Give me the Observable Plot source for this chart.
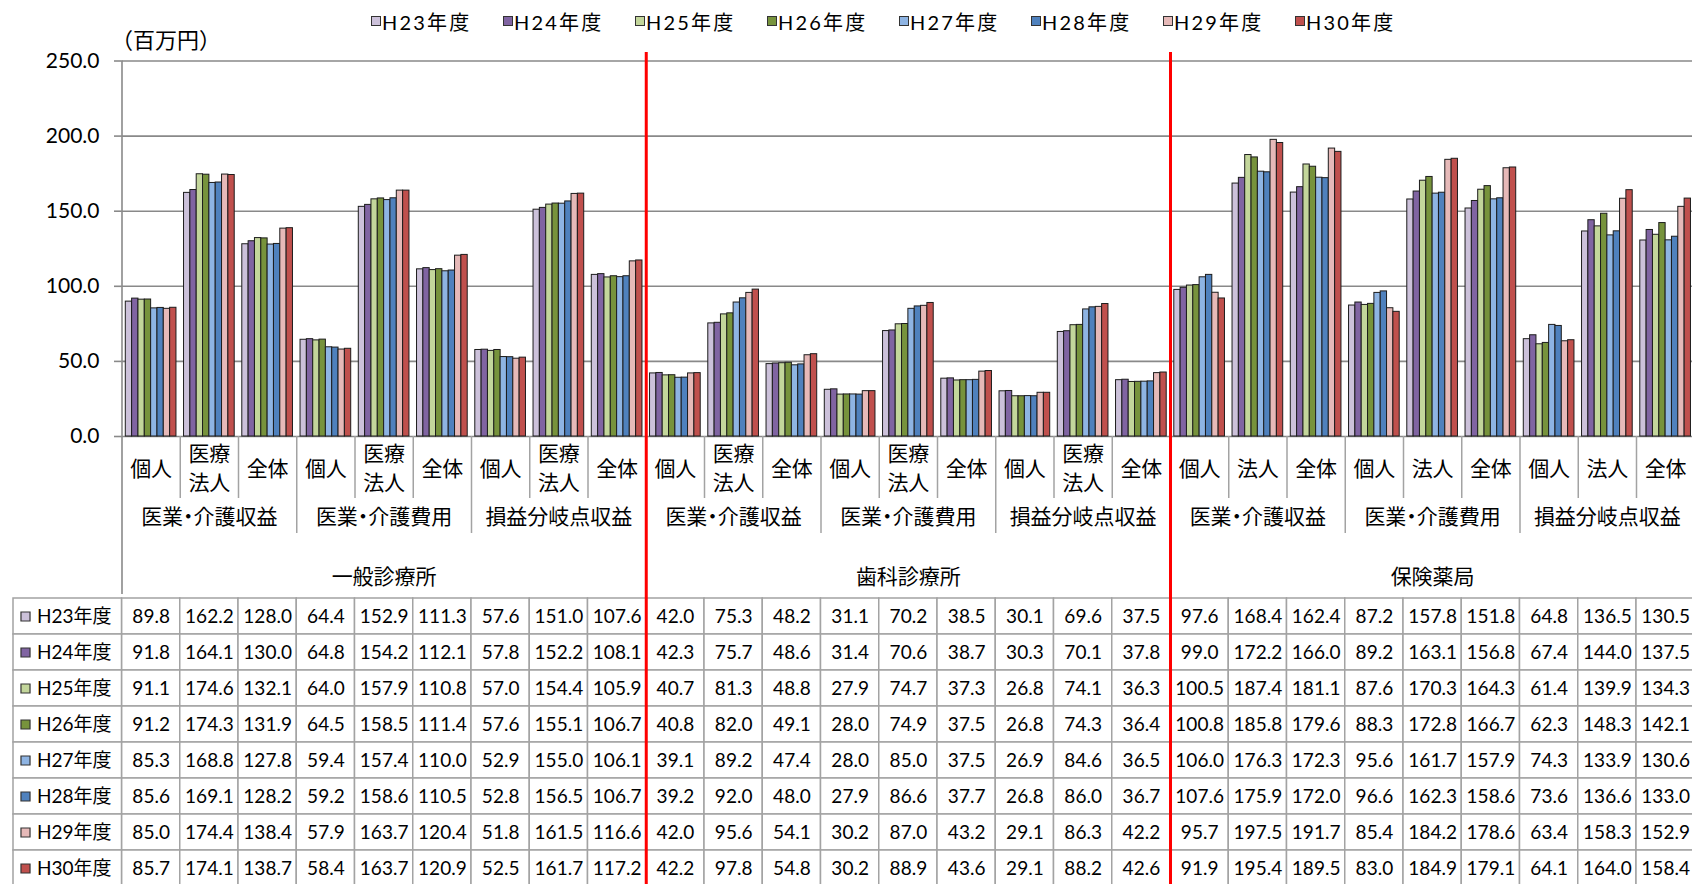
<!DOCTYPE html>
<html lang="ja">
<head>
<meta charset="utf-8">
<script src="https://cdn.jsdelivr.net/npm/d3@7"></script>
<script src="https://cdn.jsdelivr.net/npm/@observablehq/plot@0.6"></script>
<style>
  html, body { margin: 0; padding: 0; background: #fff; overflow: hidden; }
  body { width: 1692px; height: 884px; font-family: Lato, "Noto Sans CJK JP", sans-serif; color: #000; }
  #legend { position: relative; height: 30px; }
  #legend .item { position: absolute; top: 10px; height: 22px; display: flex; align-items: center; font-size: 20px; letter-spacing: 2.2px; white-space: nowrap; }
  #legend .sw { box-sizing: border-box; width: 10px; height: 10px; border: 1.2px solid #333; margin-right: 1.5px; }
  svg { display: block; }
</style>
</head>
<body>
<div id="legend"></div>
<div id="chart"></div>
<div id="table"></div>
<script>
// Fiscal years (series) and their fill colours
const years = ["H23年度", "H24年度", "H25年度", "H26年度", "H27年度", "H28年度", "H29年度", "H30年度"];
const colors = ["#ccc1da", "#8064a2", "#c3d69b", "#77933c", "#8eb4e3", "#4f81bd", "#e6b9b8", "#c0504d"];

// Category hierarchy: facility type > indicator > operator type
const sections = ["一般診療所", "歯科診療所", "保険薬局"];
const groups = ["医業・介護収益", "医業・介護費用", "損益分岐点収益"];
const clinicEntities = ["個人", "医療\n法人", "全体"];
const pharmacyEntities = ["個人", "法人", "全体"];

// Values (百万円), 27 columns per year in the order above
const h23 = [89.8, 162.2, 128.0, 64.4, 152.9, 111.3, 57.6, 151.0, 107.6, 42.0, 75.3, 48.2, 31.1, 70.2, 38.5, 30.1, 69.6, 37.5, 97.6, 168.4, 162.4, 87.2, 157.8, 151.8, 64.8, 136.5, 130.5];
const h24 = [91.8, 164.1, 130.0, 64.8, 154.2, 112.1, 57.8, 152.2, 108.1, 42.3, 75.7, 48.6, 31.4, 70.6, 38.7, 30.3, 70.1, 37.8, 99.0, 172.2, 166.0, 89.2, 163.1, 156.8, 67.4, 144.0, 137.5];
const h25 = [91.1, 174.6, 132.1, 64.0, 157.9, 110.8, 57.0, 154.4, 105.9, 40.7, 81.3, 48.8, 27.9, 74.7, 37.3, 26.8, 74.1, 36.3, 100.5, 187.4, 181.1, 87.6, 170.3, 164.3, 61.4, 139.9, 134.3];
const h26 = [91.2, 174.3, 131.9, 64.5, 158.5, 111.4, 57.6, 155.1, 106.7, 40.8, 82.0, 49.1, 28.0, 74.9, 37.5, 26.8, 74.3, 36.4, 100.8, 185.8, 179.6, 88.3, 172.8, 166.7, 62.3, 148.3, 142.1];
const h27 = [85.3, 168.8, 127.8, 59.4, 157.4, 110.0, 52.9, 155.0, 106.1, 39.1, 89.2, 47.4, 28.0, 85.0, 37.5, 26.9, 84.6, 36.5, 106.0, 176.3, 172.3, 95.6, 161.7, 157.9, 74.3, 133.9, 130.6];
const h28 = [85.6, 169.1, 128.2, 59.2, 158.6, 110.5, 52.8, 156.5, 106.7, 39.2, 92.0, 48.0, 27.9, 86.6, 37.7, 26.8, 86.0, 36.7, 107.6, 175.9, 172.0, 96.6, 162.3, 158.6, 73.6, 136.6, 133.0];
const h29 = [85.0, 174.4, 138.4, 57.9, 163.7, 120.4, 51.8, 161.5, 116.6, 42.0, 95.6, 54.1, 30.2, 87.0, 43.2, 29.1, 86.3, 42.2, 95.7, 197.5, 191.7, 85.4, 184.2, 178.6, 63.4, 158.3, 152.9];
const h30 = [85.7, 174.1, 138.7, 58.4, 163.7, 120.9, 52.5, 161.7, 117.2, 42.2, 97.8, 54.8, 30.2, 88.9, 43.6, 29.1, 88.2, 42.6, 91.9, 195.4, 189.5, 83.0, 184.9, 179.1, 64.1, 164.0, 158.4];

const yTicks = [0, 50, 100, 150, 200, 250];
const yUnit = "（百万円）";

// ---- layout ----
const FONT = 'Lato, "Noto Sans CJK JP", sans-serif';
const GRID = "#898989";
const LINE = "#a3a3a3";
const RED = "#ff0000";
const X0 = 121.5;          // left edge of the first column
const COLW = 58.25;        // column width
const NCOL = 27;
const GROUP = 0.87;        // share of a column covered by its bars
const BW = GROUP / years.length;
const PAD = (1 - GROUP) / 2;
const MT = 30.5, MB = 158, H = 564;
const FRAME_H = H - MT - MB;
const ROWH = 36.8;
const HEAD = (13 - X0) / COLW;   // left edge of the table's header column

const series = [h23, h24, h25, h26, h27, h28, h29, h30];
const barData = years.flatMap((year, s) => series[s].map((value, col) => ({year, s, col, value})));

const columns = sections.flatMap((sec, si) =>
  groups.flatMap((g, gi) =>
    (si === 2 ? pharmacyEntities : clinicEntities).map((entity, ei) => ({index: si * 9 + gi * 3 + ei, entity}))));
const groupLabels = sections.flatMap((sec, si) => groups.map((label, gi) => ({index: si * 3 + gi, label})));
const sectionLabels = sections.map((label, si) => ({index: si, label}));

const bounds = d3.range(1, NCOL);
const catBounds = bounds.filter(b => b % 3 !== 0);
const groupBounds = bounds.filter(b => b % 3 === 0 && b % 9 !== 0);
const sectionBounds = bounds.filter(b => b % 9 === 0);

const xScale = () => ({type: "linear", domain: [0, NCOL], range: [X0, X0 + NCOL * COLW], axis: null});
const colorScale = () => ({domain: years, range: colors});

// ---- legend ----
const legend = d3.select("#legend");
years.forEach((y, i) => {
  const item = legend.append("div").attr("class", "item").style("left", `${370.5 + 132 * i}px`);
  item.append("span").attr("class", "sw").style("background", colors[i]);
  item.append("span").text(y);
});

// ---- chart with category labels ----
const chart = Plot.plot({
  width: 1692, height: H,
  marginTop: MT, marginBottom: MB, marginLeft: X0, marginRight: 0,
  style: {fontFamily: FONT, fontSize: "21px", color: "#000", background: "transparent", overflow: "visible"},
  x: xScale(),
  y: {domain: [0, 250], axis: null},
  color: colorScale(),
  marks: [
    Plot.gridY(yTicks, {stroke: GRID, strokeOpacity: 1, strokeWidth: 1.6}),
    Plot.axisY(yTicks, {tickFormat: d => d.toFixed(1), tickSize: 7.5, tickPadding: 15, stroke: GRID, strokeWidth: 1.6, fontSize: 21, label: null}),
    Plot.text([yUnit], {text: d => d, frameAnchor: "top-left", textAnchor: "start", lineAnchor: "middle", dx: -11, dy: -20.5, fontSize: 22}),
    Plot.rect(barData, {
      x1: d => d.col + PAD + d.s * BW,
      x2: d => d.col + PAD + (d.s + 1) * BW,
      y1: 0, y2: "value",
      fill: "year", stroke: "#1c1c1c", strokeWidth: 1
    }),
    Plot.ruleX(catBounds, {stroke: LINE, strokeWidth: 1.5, insetTop: FRAME_H, insetBottom: -62}),
    Plot.ruleX(groupBounds, {stroke: LINE, strokeWidth: 1.5, insetTop: FRAME_H, insetBottom: -97}),
    Plot.ruleX([0], {stroke: GRID, strokeWidth: 1.6, insetBottom: -MB}),
    Plot.ruleX(sectionBounds, {stroke: RED, strokeWidth: 3, insetTop: -8.5, insetBottom: -MB}),
    Plot.text(columns, {x: d => d.index + 0.5, text: "entity", frameAnchor: "bottom", dy: 30, lineAnchor: "middle", lineHeight: 1.37, fontSize: 21}),
    Plot.text(groupLabels, {x: d => d.index * 3 + 1.5, text: "label", frameAnchor: "bottom", lineAnchor: "middle", dy: 80.5, fontSize: 21}),
    Plot.text(sectionLabels, {x: d => d.index * 9 + 4.5, text: "label", frameAnchor: "bottom", lineAnchor: "middle", dy: 140.5, fontSize: 21})
  ]
});
// proportional width for the middle dot in the indicator labels
d3.select(chart).selectAll("text")
  .filter(function() { return this.textContent.includes("・"); })
  .style("font-feature-settings", '"palt"');
document.getElementById("chart").append(chart);

// ---- data table ----
const table = Plot.plot({
  width: 1692, height: 296,
  marginTop: 1, marginBottom: 0, marginLeft: 0, marginRight: 0,
  style: {fontFamily: FONT, fontSize: "19px", color: "#000", background: "transparent", overflow: "visible"},
  x: xScale(),
  y: {type: "band", domain: years, range: [1, 1 + years.length * ROWH], padding: 0, axis: null},
  color: colorScale(),
  marks: [
    Plot.barX(barData, {x1: "col", x2: d => d.col + 1, y: "year", fill: "white", stroke: LINE, strokeWidth: 1.5}),
    Plot.barX(years, {x1: HEAD, x2: 0, y: d => d, fill: "white", stroke: LINE, strokeWidth: 1.5}),
    Plot.text(barData, {x: d => d.col + 0.5, y: "year", text: d => d.value.toFixed(1), fontSize: 19}),
    Plot.dot(years, {x: HEAD, y: d => d, dx: 12, symbol: "square", r: 5.1, fill: d => d, stroke: "#333", strokeWidth: 1.2}),
    Plot.text(years, {x: HEAD, y: d => d, dx: 23.5, textAnchor: "start", text: d => d, fontSize: 19}),
    Plot.ruleX(sectionBounds, {stroke: RED, strokeWidth: 3, insetTop: -1})
  ]
});
document.getElementById("table").append(table);
</script>
</body>
</html>
